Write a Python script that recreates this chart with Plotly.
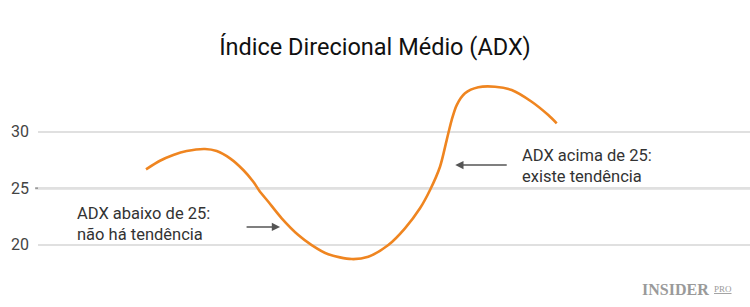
import plotly.graph_objects as go

# ADX curve (x: period index, y: ADX value)
periods = [15.17, 17.13, 19.00, 20.88, 23.46, 25.10, 26.97, 28.83, 30.24, 31.08, 32.35, 34.23,
           36.56, 38.44, 40.77, 44.06, 46.39, 49.20, 51.54, 53.65, 55.06, 56.46, 57.40, 58.10,
           58.81, 59.97, 61.84, 64.19, 66.53, 69.34, 71.67, 72.85]
adx = [26.68, 27.44, 27.95, 28.30, 28.48, 28.30, 27.65, 26.62, 25.58, 24.79, 23.81, 22.35,
       20.87, 19.98, 19.16, 18.74, 18.95, 19.98, 21.46, 23.23, 24.85, 26.91, 29.27, 31.04,
       32.37, 33.41, 33.94, 33.99, 33.70, 32.66, 31.48, 30.75]

tick_vals = [20, 25, 30]
tick_text = ["20", "25", "30"]
threshold = 25

title = "Índice Direcional Médio (ADX)"
label_above = "ADX acima de 25:<br>existe tendência"
label_below = "ADX abaixo de 25:<br>não há tendência"

FONT = "Roboto"

fig = go.Figure()
fig.add_trace(go.Scatter(
    x=periods, y=adx, mode="lines",
    line=dict(color="#EF8520", width=2.6, shape="spline", smoothing=0.8),
    hoverinfo="skip", showlegend=False,
))

fig.add_shape(type="line", xref="paper", yref="y", x0=-0.004, x1=1, y0=threshold, y1=threshold,
              line=dict(color="#9a9a9a", width=2), layer="below")

# arrows
fig.add_annotation(x=58.6, y=27.06, ax=53, ay=0, axref="pixel", ayref="pixel",
                   text="", showarrow=True, arrowhead=2, arrowsize=1.1, arrowwidth=1.5,
                   arrowcolor="#555555")
fig.add_annotation(x=34.0, y=21.58, ax=-35, ay=0, axref="pixel", ayref="pixel",
                   text="", showarrow=True, arrowhead=2, arrowsize=1.1, arrowwidth=1.5,
                   arrowcolor="#555555")

fig.add_annotation(x=67.7, y=26.97, text=label_above, showarrow=False, xanchor="left",
                   yanchor="middle", align="left",
                   font=dict(family=FONT, size=16.5, color="#333333"))
fig.add_annotation(x=5.2, y=21.84, text=label_below, showarrow=False, xanchor="left",
                   yanchor="middle", align="left",
                   font=dict(family=FONT, size=16.5, color="#333333"))

# logo
fig.add_annotation(xref="paper", yref="paper", x=0.945, y=0.0, xanchor="right", yanchor="middle",
                   text="<b>INSIDER</b>", showarrow=False,
                   font=dict(family="Liberation Serif", size=16, color="#9a9a9a"))
fig.add_annotation(xref="paper", yref="paper", x=0.946, y=0.0, xanchor="left", yanchor="middle",
                   text="<u>PRO</u>", showarrow=False,
                   font=dict(family="Liberation Serif", size=9, color="#9a9a9a"))

fig.update_layout(
    width=750, height=307,
    margin=dict(l=38, r=0, t=63, b=18),
    paper_bgcolor="white", plot_bgcolor="white",
    title=dict(text=title, x=0.5, xanchor="center", y=1 - 47 / 307, yanchor="middle",
               font=dict(family=FONT, size=23.5, color="#111111")),
    xaxis=dict(range=[0, 100], visible=False, fixedrange=True),
    yaxis=dict(range=[16.09, 36.09], tickvals=tick_vals, ticktext=tick_text,
               showgrid=True, gridcolor="#e0e0e0", gridwidth=1.5, zeroline=False,
               showline=False, ticks="", ticklabelstandoff=8,
               tickfont=dict(family=FONT, size=16, color="#444444")),
)

fig.write_html("out.html")
